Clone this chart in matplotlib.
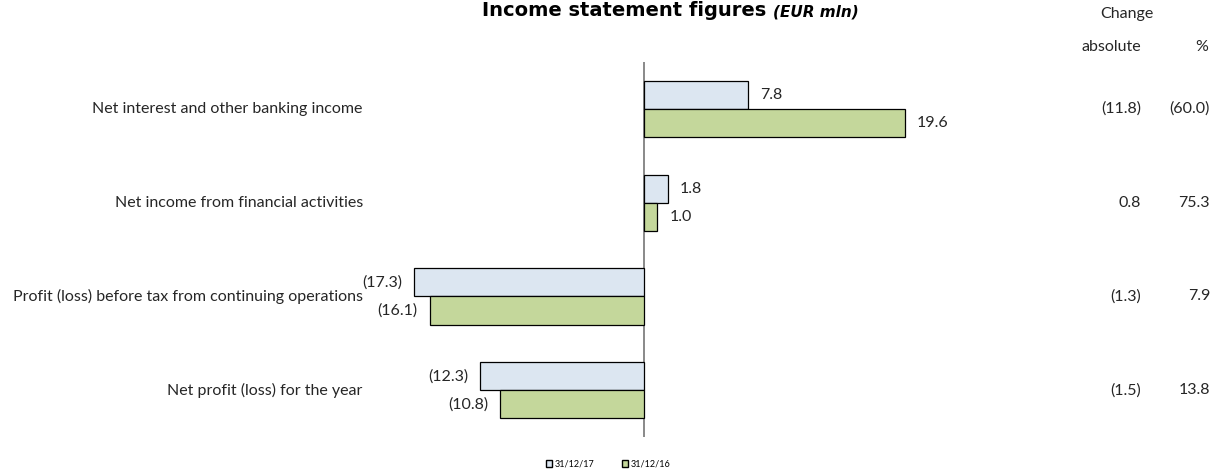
import numpy as np
import matplotlib.pyplot as plt
from matplotlib.patches import Patch

plt.rcParams['font.family'] = ['Lato', 'DejaVu Sans']

categories = ['Net interest and other banking income',
              'Net income from financial activities',
              'Profit (loss) before tax from continuing operations',
              'Net profit (loss) for the year']
vals_17 = [7.8, 1.8, -17.3, -12.3]
vals_16 = [19.6, 1.0, -16.1, -10.8]
chg_abs = ['(11.8)', '0.8', '(1.3)', '(1.5)']
chg_pct = ['(60.0)', '75.3', '7.9', '13.8']
series_names = ['31/12/17', '31/12/16']

c17 = '#dce6f1'
c16 = '#c4d79b'
txt = '#262626'
fs = 11.5

def fmt(v):
    return '(%.1f)' % abs(v) if v < 0 else '%.1f' % v

W, H = 1213, 471
fig = plt.figure(figsize=(W / 100, H / 100), dpi=100)
ax = fig.add_axes([370 / W, (H - 437) / H, 650 / W, 375 / H])

y = np.arange(len(categories))
h = 0.3
ax.barh(y - h / 2, vals_17, height=h, color=c17, edgecolor='black', linewidth=0.9)
ax.barh(y + h / 2, vals_16, height=h, color=c16, edgecolor='black', linewidth=0.9)

ax.set_xlim(-(644 - 370) / 13.3, (1020 - 644) / 13.3)
ax.set_ylim(3.5, -0.5)
ax.axvline(0, color='#808080', lw=1.3, zorder=0)
for s in ax.spines.values():
    s.set_visible(False)
ax.set_xticks([])
ax.set_yticks([])

# data labels
for vals, off in ((vals_17, -h / 2), (vals_16, h / 2)):
    for i, v in enumerate(vals):
        dx = 12 if v >= 0 else -12
        ax.annotate(fmt(v), (v, i + off), xytext=(dx, 0), textcoords='offset pixels',
                    ha='left' if v >= 0 else 'right', va='center', fontsize=fs, color=txt)

tr = ax.get_yaxis_transform()
for i, c in enumerate(categories):
    ax.text(-0.011, i, c, transform=tr, ha='right', va='center', fontsize=fs, color=txt)
    ax.text((1141 - 370) / 650, i, chg_abs[i], transform=tr, ha='right', va='center',
            fontsize=fs, color=txt)
    ax.text((1210 - 370) / 650, i, chg_pct[i], transform=tr, ha='right', va='center',
            fontsize=fs, color=txt)

# header for change columns
fig.text(1127 / W, 1 - 14 / H, 'Change', ha='center', va='center', fontsize=fs, color=txt)
fig.text(1111 / W, 1 - 47 / H, 'absolute', ha='center', va='center', fontsize=fs, color=txt)
fig.text(1208 / W, 1 - 47 / H, '%', ha='right', va='center', fontsize=fs, color=txt)

# title
t1 = fig.text(482 / W, 1 - 11 / H, 'Income statement figures ', ha='left', va='center',
              fontsize=14, fontweight='bold', family='DejaVu Sans')
fig.canvas.draw()
bb = t1.get_window_extent()
fig.text(bb.x1 / W, 1 - 12 / H, '(EUR mln)', ha='left', va='center', fontsize=11,
         fontweight='bold', style='italic', family='DejaVu Sans')

handles = [Patch(facecolor=c17, edgecolor='black'), Patch(facecolor=c16, edgecolor='black')]
fig.legend(handles, series_names, loc='center', bbox_to_anchor=(608 / W, 1 - 464 / H), ncol=2,
           frameon=False, fontsize=6.5, handlelength=0.7, handleheight=0.7,
           handletextpad=0.3, columnspacing=3)

fig.savefig('out.png', dpi=100)
